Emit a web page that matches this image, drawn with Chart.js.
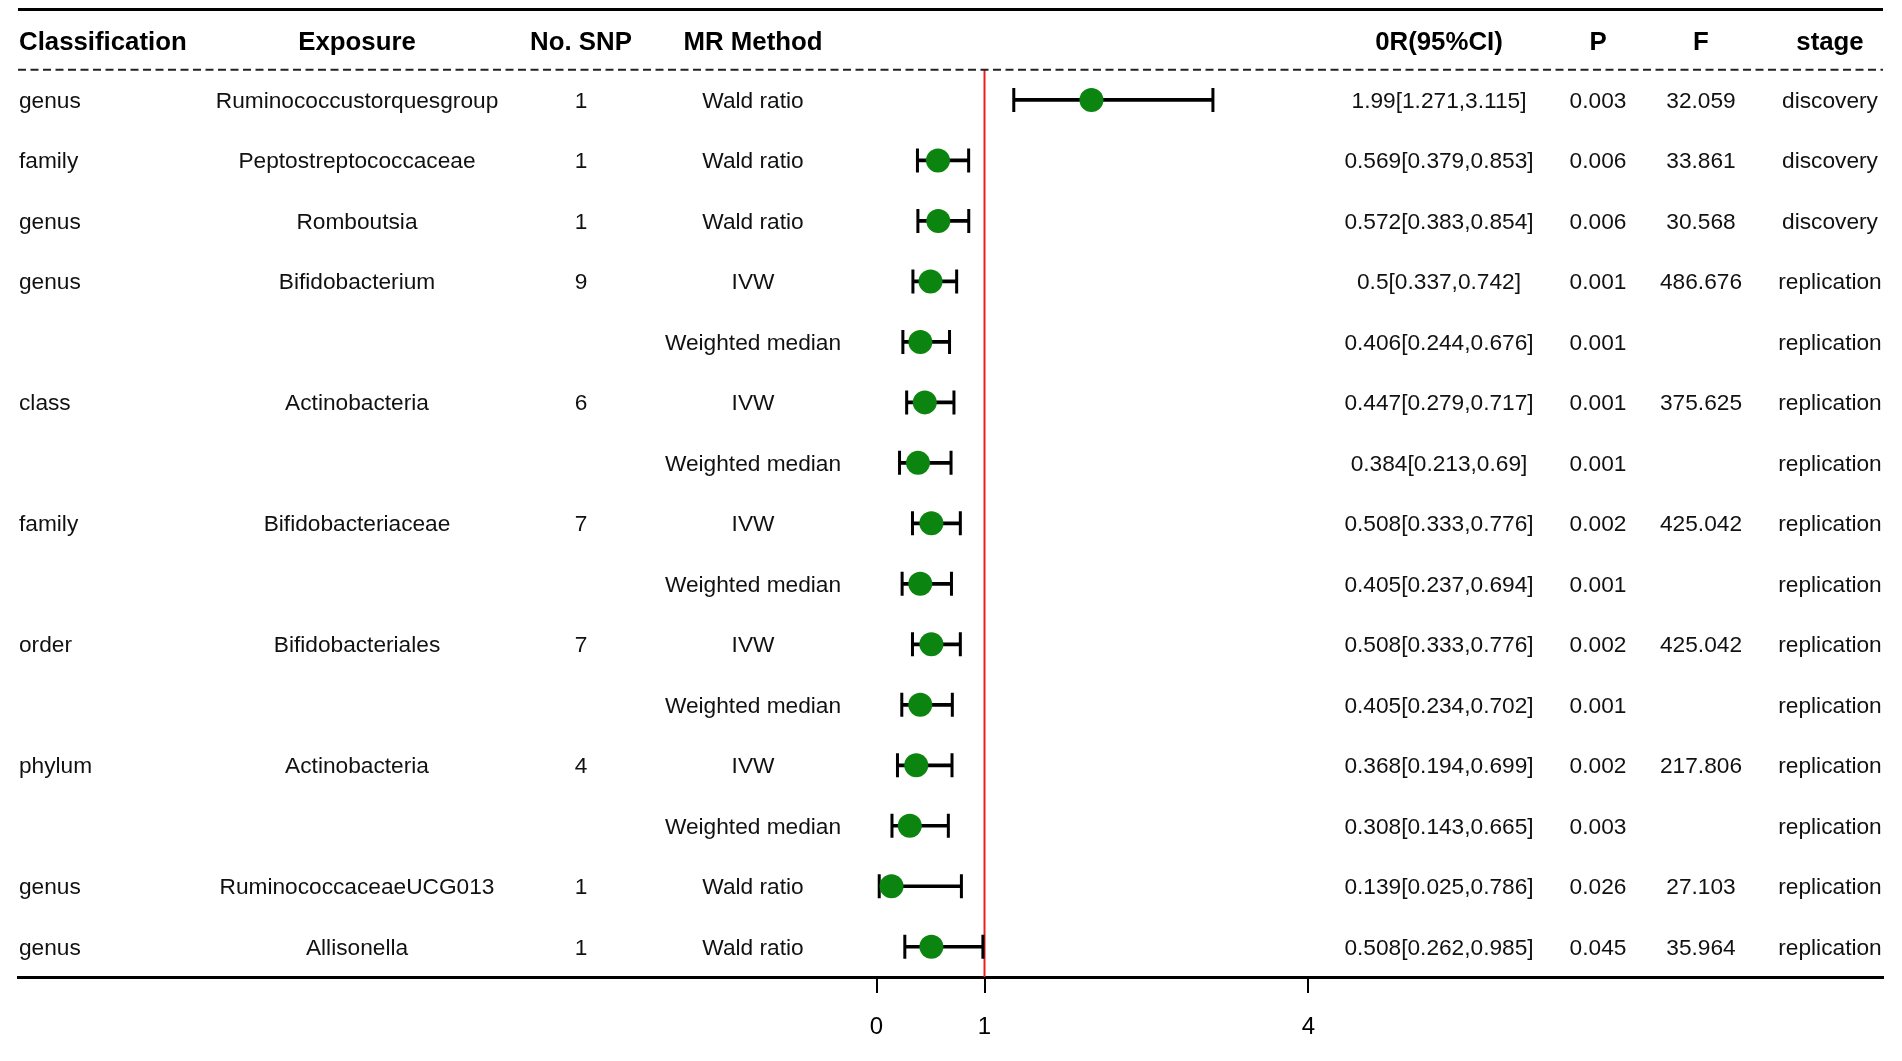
<!DOCTYPE html>
<html>
<head>
<meta charset="utf-8">
<title>MR forest plot</title>
<script src="https://cdn.jsdelivr.net/npm/chart.js@4.4.1/dist/chart.umd.min.js"></script>
<style>
  html, body { margin: 0; padding: 0; background: #fff; }
  .wrap { position: relative; width: 1902px; height: 1061px; }
</style>
</head>
<body>
<div class="wrap"><canvas id="forestChart"></canvas></div>
<script>
// donnees du tableau (une ligne par estimation)
const classification = ['genus', 'family', 'genus', 'genus', '', 'class', '', 'family', '', 'order', '', 'phylum', '', 'genus', 'genus'];
const exposure = ['Ruminococcustorquesgroup', 'Peptostreptococcaceae', 'Romboutsia', 'Bifidobacterium', '', 'Actinobacteria', '', 'Bifidobacteriaceae', '', 'Bifidobacteriales', '', 'Actinobacteria', '', 'RuminococcaceaeUCG013', 'Allisonella'];
const nSnp = ['1', '1', '1', '9', '', '6', '', '7', '', '7', '', '4', '', '1', '1'];
const method = ['Wald ratio', 'Wald ratio', 'Wald ratio', 'IVW', 'Weighted median', 'IVW', 'Weighted median', 'IVW', 'Weighted median', 'IVW', 'Weighted median', 'IVW', 'Weighted median', 'Wald ratio', 'Wald ratio'];
const orValue = [1.99, 0.569, 0.572, 0.5, 0.406, 0.447, 0.384, 0.508, 0.405, 0.508, 0.405, 0.368, 0.308, 0.139, 0.508];
const ciLow = [1.271, 0.379, 0.383, 0.337, 0.244, 0.279, 0.213, 0.333, 0.237, 0.333, 0.234, 0.194, 0.143, 0.025, 0.262];
const ciHigh = [3.115, 0.853, 0.854, 0.742, 0.676, 0.717, 0.69, 0.776, 0.694, 0.776, 0.702, 0.699, 0.665, 0.786, 0.985];
const pValue = ['0.003', '0.006', '0.006', '0.001', '0.001', '0.001', '0.001', '0.002', '0.001', '0.002', '0.001', '0.002', '0.003', '0.026', '0.045'];
const fStat = ['32.059', '33.861', '30.568', '486.676', '', '375.625', '', '425.042', '', '425.042', '', '217.806', '', '27.103', '35.964'];
const stage = ['discovery', 'discovery', 'discovery', 'replication', 'replication', 'replication', 'replication', 'replication', 'replication', 'replication', 'replication', 'replication', 'replication', 'replication', 'replication'];

const headers = ['Classification', 'Exposure', 'No. SNP', 'MR Method', '0R(95%CI)', 'P', 'F', 'stage'];
const xTicks = [0, 1, 4];
const refLine = 1;

// limites de l'axe x (la zone du graphique couvre toute la largeur du tableau)
const xMin = -7.95;
const xMax = 9.32;

const rowIdx = orValue.map((v, i) => i);

// positions des colonnes de texte
const cols = {
    classification: 19,
    exposure: 357,
    snp: 581,
    method: 753,
    or: 1439,
    p: 1598,
    f: 1701,
    stage: 1830
};

const tablePlugin = {
    id: 'tableText',
    afterDraw(chart) {
        const ctx = chart.ctx;
        const area = chart.chartArea;
        const y = chart.scales.y;
        ctx.save();

        // ligne du haut
        ctx.strokeStyle = '#000';
        ctx.lineWidth = 3;
        ctx.beginPath();
        ctx.moveTo(area.left, 9.5);
        ctx.lineTo(area.right, 9.5);
        ctx.stroke();

        // ligne pointillee sous l'entete
        ctx.lineWidth = 2;
        ctx.strokeStyle = '#222';
        ctx.setLineDash([8, 4.5]);
        ctx.beginPath();
        ctx.moveTo(area.left, area.top);
        ctx.lineTo(area.right, area.top);
        ctx.stroke();
        ctx.setLineDash([]);

        // entete
        const hx = [cols.classification, cols.exposure, cols.snp, cols.method, cols.or, cols.p, cols.f, cols.stage];
        ctx.fillStyle = '#000';
        ctx.font = 'bold 25.8px "Liberation Sans", Arial, sans-serif';
        ctx.textBaseline = 'middle';
        headers.forEach((h, i) => {
            ctx.textAlign = i === 0 ? 'left' : 'center';
            ctx.fillText(h, hx[i], 43);
        });

        // lignes du tableau
        ctx.font = '22.7px "Liberation Sans", Arial, sans-serif';
        ctx.fillStyle = '#111';
        rowIdx.forEach((i) => {
            const py = y.getPixelForValue(i) + 1.5;
            ctx.textAlign = 'left';
            ctx.fillText(classification[i], cols.classification, py);
            ctx.textAlign = 'center';
            ctx.fillText(exposure[i], cols.exposure, py);
            ctx.fillText(nSnp[i], cols.snp, py);
            ctx.fillText(method[i], cols.method, py);
            ctx.fillText(orValue[i] + '[' + ciLow[i] + ',' + ciHigh[i] + ']', cols.or, py);
            ctx.fillText(pValue[i], cols.p, py);
            ctx.fillText(fStat[i], cols.f, py);
            ctx.fillText(stage[i], cols.stage, py);
        });
        ctx.restore();
    }
};

const ctx = document.getElementById('forestChart').getContext('2d');

new Chart(ctx, {
    type: 'scatter',
    data: {
        datasets: [
            {
                // point estimate
                label: 'OR',
                data: rowIdx.map((i) => ({ x: orValue[i], y: i })),
                pointStyle: 'circle',
                pointRadius: 12,
                backgroundColor: '#0b850f',
                borderColor: '#0b850f',
                borderWidth: 0,
                order: 0
            },
            {
                // bornes de l'intervalle
                label: 'caps',
                data: rowIdx.flatMap((i) => [{ x: ciLow[i], y: i }, { x: ciHigh[i], y: i }]),
                pointStyle: 'line',
                rotation: 90,
                pointRadius: 12,
                borderColor: '#000',
                borderWidth: 3,
                order: 1
            },
            {
                // intervalle de confiance
                type: 'bar',
                label: 'CI',
                indexAxis: 'y',
                data: rowIdx.map((i) => ({ x: [ciLow[i], ciHigh[i]], y: i })),
                barThickness: 3,
                backgroundColor: '#000',
                borderWidth: 0,
                order: 2
            },
            {
                // ligne de reference OR = 1
                label: 'ref',
                data: [{ x: refLine, y: -0.5 }, { x: refLine, y: 14.5 }],
                showLine: true,
                pointRadius: 0,
                borderColor: '#e8201e',
                borderWidth: 2,
                order: 3
            }
        ]
    },
    options: {
        responsive: true,
        maintainAspectRatio: false,
        animation: false,
        layout: { padding: { left: 18, right: 19, top: 69.7, bottom: 0 } },
        plugins: {
            legend: { display: false },
            tooltip: { enabled: false }
        },
        scales: {
            x: {
                type: 'linear',
                offset: false,
                min: xMin,
                max: xMax,
                afterBuildTicks: (scale) => {
                    scale.ticks = xTicks.map((v) => ({ value: v }));
                },
                afterFit: (scale) => {
                    scale.height = 84;
                },
                grid: {
                    offset: false,
                    drawOnChartArea: false,
                    drawTicks: true,
                    tickLength: 16,
                    color: '#000',
                    lineWidth: 2
                },
                border: { display: true, color: '#000', width: 3 },
                ticks: {
                    padding: 20,
                    color: '#000',
                    font: { family: '"Liberation Sans", Arial, sans-serif', size: 24 },
                    callback: (v) => String(v)
                }
            },
            y: {
                type: 'linear',
                display: false,
                offset: false,
                reverse: true,
                min: -0.5,
                max: 14.5
            }
        }
    },
    plugins: [tablePlugin]
});
</script>
</body>
</html>
